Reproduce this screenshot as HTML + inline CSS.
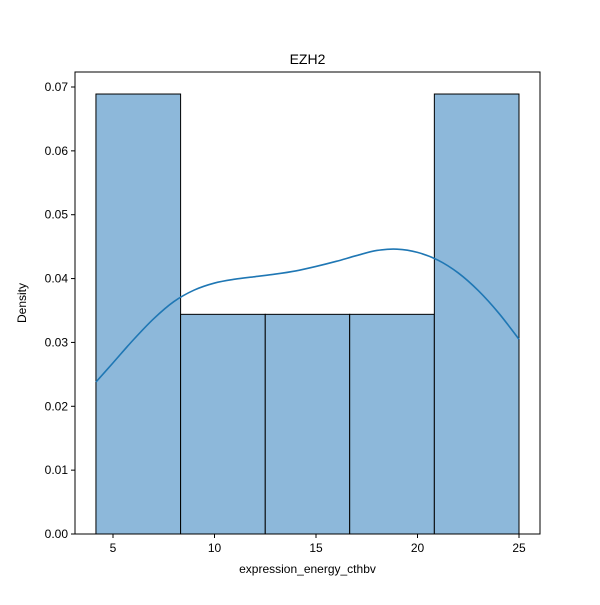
<!DOCTYPE html>
<html><head><meta charset="utf-8"><style>
body{margin:0;background:#fff}
svg{font-family:"Liberation Sans","DejaVu Sans",sans-serif}
</style></head><body>
<svg id="chart" width="600" height="600"></svg>
<script>
const binEdges=[4.16,8.33,12.5,16.66,20.83,25.0];
const binDensity=[0.0689,0.0344,0.0344,0.0344,0.0689];
const kdeX=[4.16,5,6,7,8,9,10,11,12,13,14,15,16,17,18,19,20,21,22,23,24,25];
const kdeY=[0.0238,0.0268,0.0304,0.0337,0.0364,0.0382,0.0393,0.0399,0.0403,0.0407,0.0412,0.0419,0.0427,0.0436,0.0444,0.0446,0.0441,0.0429,0.0409,0.0381,0.0346,0.0305];
const xTicks=[5,10,15,20,25];
const yTicks=[0,0.01,0.02,0.03,0.04,0.05,0.06,0.07];
const yTickLabels=["0.00","0.01","0.02","0.03","0.04","0.05","0.06","0.07"];

const L=75,R=540,T=72,B=534;
const xs=v=>113+(v-5)*(519-113)/20;
const ys=v=>534-v*(534-87)/0.07;
const svg=document.getElementById('chart');
const NS='http://www.w3.org/2000/svg';
function mk(tag,attrs,parent){const e=document.createElementNS(NS,tag);for(const k in attrs)e.setAttribute(k,attrs[k]);(parent||svg).appendChild(e);return e;}

for(let i=0;i<binDensity.length;i++){
  const r=mk('rect',{x:xs(binEdges[i]),y:ys(binDensity[i]),width:xs(binEdges[i+1])-xs(binEdges[i]),height:ys(0)-ys(binDensity[i]),fill:'#8db8da',stroke:'#000','stroke-width':1});
  
  
}
const P=kdeX.map((x,i)=>[xs(x),ys(kdeY[i])]);
let d='M'+P[0][0]+','+P[0][1];
for(let i=0;i<P.length-1;i++){
  const p0=P[Math.max(0,i-1)],p1=P[i],p2=P[i+1],p3=P[Math.min(P.length-1,i+2)];
  const c1=[p1[0]+(p2[0]-p0[0])/6,p1[1]+(p2[1]-p0[1])/6];
  const c2=[p2[0]-(p3[0]-p1[0])/6,p2[1]-(p3[1]-p1[1])/6];
  d+='C'+c1[0]+','+c1[1]+' '+c2[0]+','+c2[1]+' '+p2[0]+','+p2[1];
}
const p=mk('path',{d:d,fill:'none',stroke:'#1f77b4','stroke-width':1.6});



const frame=mk('rect',{x:L,y:T,width:R-L,height:B-T,fill:'none',stroke:'#000','stroke-width':1});



xTicks.forEach(t=>{
  mk('line',{x1:xs(t),x2:xs(t),y1:B,y2:B+4,stroke:'#000'});
  const tx=mk('text',{x:xs(t),y:B+18,'text-anchor':'middle','font-size':12});
  tx.textContent=t;
  
  
});
yTicks.forEach((t,i)=>{
  mk('line',{x1:L-4,x2:L,y1:ys(t),y2:ys(t),stroke:'#000'});
  const tx=mk('text',{x:L-7,y:ys(t)+4,'text-anchor':'end','font-size':12});
  tx.textContent=yTickLabels[i];
  
  
});
const title=mk('text',{x:(L+R)/2,y:64,'text-anchor':'middle','font-size':14});
title.textContent='EZH2';


const xl=mk('text',{x:(L+R)/2,y:573,'text-anchor':'middle','font-size':12});
xl.textContent='expression_energy_cthbv';


const yl=mk('text',{x:26,y:(T+B)/2,'text-anchor':'middle','font-size':12,transform:'rotate(-90 26 '+(T+B)/2+')'});
yl.textContent='Density';


</script>
</body></html>
